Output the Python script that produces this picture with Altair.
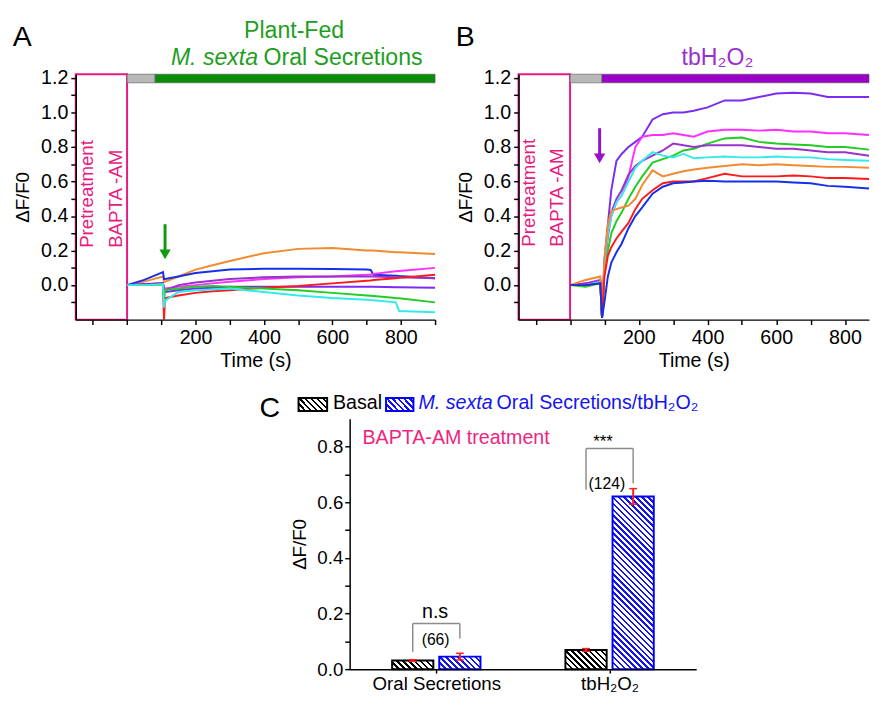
import math
import altair as alt
import pandas as pd

FONT = "Liberation Sans"
PINK = "#e8197f"
GREEN_TXT = "#1e9e1e"
GREEN_BAR = "#0a8c0a"
GRAY_BAR = "#b8b8b8"
PURPLE_TXT = "#9b30d0"
PURPLE_BAR = "#9a00c8"
BLUE_C = "#1414f0"
RED_ERR = "#ff2020"
BRACKET = "#8c8c8c"

SERIES = ["orange", "blue", "magenta", "orchid", "violet", "red", "green", "cyan"]
SERIES_COLORS = ["#f28a30", "#1530e6", "#ff30ff", "#9933cc", "#7b2cf0", "#ff1a1a", "#22cc22", "#33eaea"]

# ---------------- Panel A: plant-fed M. sexta oral secretions ----------------
tA = [0, 50, 105, 108, 111, 150, 200, 250, 300, 400, 500, 600, 700, 712, 720, 785, 795, 900]
A_orange = [0, 0.02, 0.05, 0.02, 0.02, 0.05, 0.09, 0.115, 0.14, 0.185, 0.21, 0.215, 0.2, 0.2, 0.2, 0.19, 0.19, 0.18]
A_blue = [0, 0.03, 0.075, 0.035, 0.035, 0.05, 0.07, 0.08, 0.09, 0.095, 0.095, 0.093, 0.09, 0.088, 0.06, 0.055, 0.053, 0.04]
A_magenta = [0, 0.005, 0.01, -0.02, -0.02, -0.01, 0.0, 0.01, 0.02, 0.035, 0.045, 0.05, 0.06, 0.062, 0.065, 0.08, 0.082, 0.1]
A_orchid = [0, 0.005, 0.01, -0.03, -0.03, 0.0, 0.015, 0.025, 0.035, 0.045, 0.05, 0.05, 0.05, 0.05, 0.05, 0.045, 0.045, 0.04]
A_violet = [0, 0.005, 0.01, -0.04, -0.04, -0.03, -0.02, -0.015, -0.01, -0.01, -0.01, -0.01, -0.01, -0.01, -0.01, -0.012, -0.012, -0.015]
A_red = [0, 0.0, 0.005, -0.2, -0.075, -0.06, -0.045, -0.035, -0.03, -0.015, -0.005, 0.01, 0.025, 0.027, 0.03, 0.04, 0.042, 0.06]
A_green = [0, 0.0, 0.005, -0.09, -0.03, -0.02, -0.01, -0.005, -0.01, -0.02, -0.03, -0.045, -0.06, -0.062, -0.063, -0.075, -0.076, -0.1]
A_cyan = [0, 0.0, 0.005, -0.13, -0.09, -0.04, -0.03, -0.025, -0.02, -0.04, -0.06, -0.075, -0.085, -0.087, -0.088, -0.1, -0.15, -0.157]

# ---------------- Panel B: tbH2O2 ----------------
tB = [0, 45, 88, 93, 100, 110, 120, 135, 150, 170, 190, 210, 240, 270, 300, 330, 360, 400, 450, 500, 550, 600, 650, 700, 750, 800, 870]
B_violet = [0, 0.01, 0.02, -0.19, 0.15, 0.35, 0.55, 0.72, 0.76, 0.8, 0.83, 0.86, 0.96, 0.99, 1.0, 1.0, 1.01, 1.03, 1.07, 1.07, 1.09, 1.11, 1.115, 1.11, 1.09, 1.09, 1.09]
B_magenta = [0, 0.01, 0.02, -0.19, 0.1, 0.28, 0.4, 0.48, 0.52, 0.63, 0.8, 0.86, 0.87, 0.87, 0.88, 0.87, 0.86, 0.89, 0.9, 0.9, 0.895, 0.9, 0.89, 0.89, 0.88, 0.88, 0.87]
B_green = [0, -0.01, 0.01, -0.19, 0.08, 0.2, 0.3, 0.37, 0.42, 0.5, 0.57, 0.63, 0.71, 0.73, 0.75, 0.78, 0.79, 0.82, 0.85, 0.855, 0.83, 0.82, 0.815, 0.81, 0.8, 0.8, 0.785]
B_orchid = [0, 0.01, 0.03, -0.19, 0.12, 0.3, 0.42, 0.5, 0.55, 0.64, 0.69, 0.72, 0.75, 0.78, 0.82, 0.81, 0.8, 0.81, 0.81, 0.81, 0.8, 0.79, 0.79, 0.78, 0.77, 0.77, 0.75]
B_cyan = [0, 0.0, 0.02, -0.19, 0.12, 0.3, 0.4, 0.48, 0.52, 0.6, 0.68, 0.72, 0.77, 0.75, 0.74, 0.76, 0.735, 0.74, 0.745, 0.74, 0.74, 0.745, 0.74, 0.74, 0.73, 0.725, 0.72]
B_orange = [0, 0.03, 0.05, -0.19, 0.15, 0.35, 0.43, 0.44, 0.45, 0.46, 0.5, 0.58, 0.665, 0.63, 0.645, 0.66, 0.67, 0.68, 0.69, 0.7, 0.695, 0.7, 0.695, 0.69, 0.685, 0.685, 0.68]
B_red = [0, 0.0, 0.01, -0.19, 0.05, 0.17, 0.22, 0.27, 0.31, 0.36, 0.44, 0.5, 0.55, 0.59, 0.6, 0.6, 0.6, 0.62, 0.645, 0.63, 0.63, 0.63, 0.635, 0.63, 0.62, 0.62, 0.615]
B_blue = [0, 0.0, 0.01, -0.19, -0.1, 0.05, 0.13, 0.19, 0.24, 0.33, 0.4, 0.45, 0.53, 0.57, 0.59, 0.595, 0.6, 0.605, 0.6, 0.6, 0.6, 0.6, 0.595, 0.59, 0.575, 0.57, 0.56]

# ---------------- Panel C: bar summary ----------------
C_CATS = ["Oral Secretions", "tbH₂O₂"]
C_BASAL = [0.031, 0.069]
C_BASAL_ERR = [0.003, 0.005]
C_TREAT = [0.045, 0.621]
C_TREAT_ERR = [0.012, 0.028]
C_N = ["(66)", "(124)"]
C_SIG = ["n.s", "***"]

# ---------------- layout constants ----------------
Y_MIN, Y_MAX = -0.2, 1.222
X_MIN = -150
A_XMAX, A_W = 900, 366
B_XMAX, B_W = 870, 357
P_H = 250
C_W, C_H = 353, 255
C_YMAX = 0.9
BAR_W, GAP = 42, 6


def long_df(t, named):
    rows = []
    for name, vals in named.items():
        for i, (tt, v) in enumerate(zip(t, vals)):
            rows.append({"t": tt, "v": v, "s": name, "i": i})
    return pd.DataFrame(rows)


dfA = long_df(tA, {"orange": A_orange, "blue": A_blue, "magenta": A_magenta, "orchid": A_orchid,
                   "violet": A_violet, "red": A_red, "green": A_green, "cyan": A_cyan})
dfB = long_df(tB, {"violet": B_violet, "magenta": B_magenta, "green": B_green, "orchid": B_orchid,
                   "cyan": B_cyan, "orange": B_orange, "red": B_red, "blue": B_blue})


def trace_panel(df, x_max, width, letter, bar_switch, bar_color, arrow_t, arrow_top, arrow_color,
                pre_pos, titles):
    xs = alt.Scale(domain=[X_MIN, x_max], nice=False, zero=False)
    ys = alt.Scale(domain=[Y_MIN, Y_MAX], nice=False, zero=False)
    xvals = [v for v in range(-100, x_max + 1, 100)]
    yvals = [round(-0.1 + 0.1 * k, 1) for k in range(14)]
    xaxis = alt.Axis(values=xvals, title="Time (s)", titleFontSize=20, titlePadding=4,
                     labelExpr="(datum.value >= 200 && datum.value % 200 == 0) ? datum.value : ''",
                     labelPadding=3, zindex=1)
    yaxis = alt.Axis(values=yvals, title="ΔF/F0", titlePadding=8, titleFontSize=19,
                     labelExpr="(round(datum.value*10) % 2 == 0 && datum.value >= 0) ? format(datum.value, '.1f') : ''",
                     labelPadding=3, zindex=1)

    def X(f):
        return alt.X(f, type="quantitative", scale=xs, axis=xaxis)

    def Y(f):
        return alt.Y(f, type="quantitative", scale=ys, axis=yaxis)

    box = alt.Chart(pd.DataFrame({"x": [X_MIN], "x2": [0], "y": [Y_MIN], "y2": [Y_MAX]})).mark_rect(
        fill="white", stroke=PINK, strokeWidth=2).encode(x=X("x"), x2="x2", y=Y("y"), y2="y2")

    bars = alt.Chart(pd.DataFrame({"x": [0, bar_switch], "x2": [bar_switch, x_max], "y": [1.172, 1.172],
                                   "y2": [Y_MAX, Y_MAX], "c": [GRAY_BAR, bar_color]})).mark_rect(
        stroke="#555555", strokeWidth=0.6).encode(
        x=X("x"), x2="x2", y=Y("y"), y2="y2", color=alt.Color("c:N", scale=None))

    lines = alt.Chart(df).mark_line(strokeWidth=2, clip=True).encode(
        x=X("t"), y=Y("v"),
        color=alt.Color("s:N", scale=alt.Scale(domain=SERIES, range=SERIES_COLORS), legend=None),
        order="i:Q")

    pre = alt.Chart(pd.DataFrame({"x": pre_pos[0], "y": pre_pos[1], "txt": ["Pretreatment", "BAPTA -AM"]})).mark_text(
        angle=270, align="left", baseline="middle", fontSize=19, color=PINK).encode(
        x=X("x"), y=Y("y"), text="txt:N")

    arrow_rule = alt.Chart(pd.DataFrame({"x": [arrow_t], "y": [arrow_top], "y2": [arrow_top - 0.15]})).mark_rule(
        color=arrow_color, strokeWidth=3).encode(x=X("x"), y=Y("y"), y2="y2")
    arrow_head = alt.Chart(pd.DataFrame({"x": [arrow_t], "y": [arrow_top - 0.175]})).mark_point(
        shape="triangle-down", filled=True, size=130, color=arrow_color, opacity=1).encode(x=X("x"), y=Y("y"))

    let = alt.Chart(pd.DataFrame({"x": [letter[1]], "y": [1.385], "txt": [letter[0]]})).mark_text(
        align="left", baseline="alphabetic", fontSize=29, color="black").encode(x=X("x"), y=Y("y"), text="txt:N")

    layers = [box, bars, lines, pre, arrow_rule, arrow_head, let]
    for tx in titles:
        layers.append(alt.Chart(pd.DataFrame({"x": [tx["x"]], "y": [tx["y"]], "txt": [tx["text"]]})).mark_text(
            align=tx.get("align", "center"), baseline="alphabetic", fontSize=23.5, color=tx["color"],
            fontStyle=tx.get("style", "normal")).encode(x=X("x"), y=Y("y"), text="txt:N"))
    return alt.layer(*layers).properties(width=width, height=P_H)


chartA = trace_panel(
    dfA, A_XMAX, A_W, ("A", -334), 82, GREEN_BAR, 111, 0.353, "#119a11",
    ([-117, -33], [0.216, 0.216]),
    [{"x": 488, "y": 1.43, "text": "Plant-Fed", "color": GREEN_TXT},
     {"x": 128, "y": 1.273, "text": "M. sexta", "color": GREEN_TXT, "align": "left", "style": "italic"},
     {"x": 399, "y": 1.273, "text": "Oral Secretions", "color": GREEN_TXT, "align": "left"}])

chartB = trace_panel(
    dfB, B_XMAX, B_W, ("B", -333), 93, PURPLE_BAR, 86, 0.909, "#9a10c8",
    ([-118, -37], [0.223, 0.223]),
    [{"x": 429, "y": 1.273, "text": "tbH₂O₂", "color": PURPLE_TXT}])


# ---------------- Panel C ----------------
PXX = C_W / 2.0
PXY = C_H / C_YMAX


def hatch_fill(w, h, color, period=6.0, frac=0.42):
    L = (w + h) / math.sqrt(2)
    p = period / math.sqrt(2)
    n = int(math.ceil(L / p))
    stops = []
    for k in range(n):
        a = k * p / L
        b = min((k * p + p * frac) / L, 1.0)
        c = min((k + 1) * p / L, 1.0)
        stops += [alt.GradientStop(color=color, offset=a), alt.GradientStop(color=color, offset=b),
                  alt.GradientStop(color="white", offset=b), alt.GradientStop(color="white", offset=c)]
    s = (w + h) / (w * w + h * h)
    return alt.LinearGradient(gradient="linear", stops=stops, x1=0, y1=1, x2=w * s, y2=1 - h * s)


cxs = alt.Scale(domain=[0, 2], nice=False, zero=False)
cys = alt.Scale(domain=[0, C_YMAX], nice=False, zero=False)
cxaxis = alt.Axis(values=[0.5, 1.5], title=None, labelFontSize=19, tickSize=4, labelPadding=2,
                  labelExpr=f"datum.value < 1 ? '{C_CATS[0]}' : '{C_CATS[1]}'", zindex=1)
cyaxis = alt.Axis(values=[round(0.1 * k, 1) for k in range(9)], title="ΔF/F0", titleFontSize=19,
                  labelFontSize=19, titlePadding=8,
                  labelExpr="(round(datum.value*10) % 2 == 0) ? format(datum.value, '.1f') : ''", zindex=1)


def CX(f):
    return alt.X(f, type="quantitative", scale=cxs, axis=cxaxis)


def CY(f):
    return alt.Y(f, type="quantitative", scale=cys, axis=cyaxis)


c_layers = []
err_rows = []
centers = {}
for i, cat in enumerate(C_CATS):
    c = i + 0.5
    for kind, val, err, col, stroke in [("basal", C_BASAL[i], C_BASAL_ERR[i], "black", "black"),
                                        ("treat", C_TREAT[i], C_TREAT_ERR[i], BLUE_C, "#0000ff")]:
        if kind == "basal":
            x0, x1 = c - (GAP / 2 + BAR_W) / PXX, c - (GAP / 2) / PXX
        else:
            x0, x1 = c + (GAP / 2) / PXX, c + (GAP / 2 + BAR_W) / PXX
        centers[(i, kind)] = (x0 + x1) / 2
        c_layers.append(alt.Chart(pd.DataFrame({"x": [x0], "x2": [x1], "y": [0], "y2": [val]})).mark_rect(
            fill=hatch_fill(BAR_W, val * PXY, col), stroke=stroke, strokeWidth=2).encode(
            x=CX("x"), x2="x2", y=CY("y"), y2="y2"))
        err_rows.append({"x": (x0 + x1) / 2, "lo": val - err, "hi": val + err,
                         "cl": (x0 + x1) / 2 - 4 / PXX, "cr": (x0 + x1) / 2 + 4 / PXX})

err_df = pd.DataFrame(err_rows)
c_layers.append(alt.Chart(err_df).mark_rule(color=RED_ERR, strokeWidth=2).encode(x=CX("x"), y=CY("lo"), y2="hi"))
c_layers.append(alt.Chart(err_df).mark_rule(color=RED_ERR, strokeWidth=1.5).encode(x=CX("cl"), x2="cr", y=CY("hi")))
c_layers.append(alt.Chart(err_df).mark_rule(color=RED_ERR, strokeWidth=1.5).encode(x=CX("cl"), x2="cr", y=CY("lo")))

# significance brackets
br_top = [0.164, 0.793]
br_left_end = [0.063, 0.645]
br_right_end = [0.11, 0.668]
br_rows = []
for i in range(2):
    xl, xr = centers[(i, "basal")], centers[(i, "treat")]
    br_rows += [{"x": xl, "x2": xr, "y": br_top[i], "y2": br_top[i]},
                {"x": xl, "x2": xl, "y": br_left_end[i], "y2": br_top[i]},
                {"x": xr, "x2": xr, "y": br_right_end[i], "y2": br_top[i]}]
c_layers.append(alt.Chart(pd.DataFrame(br_rows)).mark_rule(color=BRACKET, strokeWidth=1.5).encode(
    x=CX("x"), x2="x2", y=CY("y"), y2="y2"))

c_layers.append(alt.Chart(pd.DataFrame({"x": [0.493, 1.462], "y": [0.205, 0.815], "txt": C_SIG,
                                        "fs": [20, 17]})).mark_text(baseline="middle", color="black").encode(
    x=CX("x"), y=CY("y"), text="txt:N", size=alt.Size("fs:Q", scale=None)))
c_layers.append(alt.Chart(pd.DataFrame({"x": [0.496, 1.484], "y": [0.105, 0.664], "txt": C_N})).mark_text(
    baseline="middle", fontSize=16, color="black").encode(x=CX("x"), y=CY("y"), text="txt:N"))

c_layers.append(alt.Chart(pd.DataFrame({"x": [0.074], "y": [0.811], "txt": ["BAPTA-AM treatment"]})).mark_text(
    align="left", baseline="alphabetic", fontSize=20, color="#f0247f").encode(x=CX("x"), y=CY("y"), text="txt:N"))

c_layers.append(alt.Chart(pd.DataFrame({"x": [-0.521], "y": [0.907], "txt": ["C"]})).mark_text(
    align="left", baseline="alphabetic", fontSize=29, color="black").encode(x=CX("x"), y=CY("y"), text="txt:N"))

# legend
LEG_W, LEG_H = 29, 13
for x0, x1, col, stroke in [(-0.295, -0.130, "black", "black"), (0.210, 0.368, BLUE_C, "#0000ff")]:
    c_layers.append(alt.Chart(pd.DataFrame({"x": [x0], "x2": [x1], "y": [0.928], "y2": [0.975]})).mark_rect(
        fill=hatch_fill(LEG_W, LEG_H, col), stroke=stroke, strokeWidth=2).encode(
        x=CX("x"), x2="x2", y=CY("y"), y2="y2"))
leg_txt = [(-0.096, "Basal", "black", "normal"), (0.397, "M. sexta", BLUE_C, "italic"),
           (0.848, "Oral Secretions/tbH₂O₂", BLUE_C, "normal")]
for x, txt, col, sty in leg_txt:
    c_layers.append(alt.Chart(pd.DataFrame({"x": [x], "y": [0.934], "txt": [txt]})).mark_text(
        align="left", baseline="alphabetic", fontSize=20, color=col, fontStyle=sty).encode(
        x=CX("x"), y=CY("y"), text="txt:N"))

chartC = alt.layer(*c_layers).properties(width=C_W, height=C_H)

spacer = alt.Chart(pd.DataFrame({"a": [0]})).mark_point(opacity=0, size=1).encode(
    x=alt.value(0), y=alt.value(0)).properties(width=187, height=10)

top = alt.hconcat(chartA, chartB, spacing=19)
bottom = alt.hconcat(spacer, chartC, spacing=0)

chart = alt.vconcat(top, bottom, spacing=23).properties(
    padding={"left": 4, "top": 5, "right": 0, "bottom": 0}
).configure_view(stroke=None).configure_axis(
    labelFont=FONT, titleFont=FONT, labelFontSize=20, titleFontSize=17, titleFontWeight="normal",
    domainColor="black", tickColor="black", labelColor="black", titleColor="black", grid=False,
    tickSize=5, domainWidth=1.5, tickWidth=1.5
).configure_text(font=FONT)

chart.save("out.html", embed_options={"renderer": "svg", "actions": False})
